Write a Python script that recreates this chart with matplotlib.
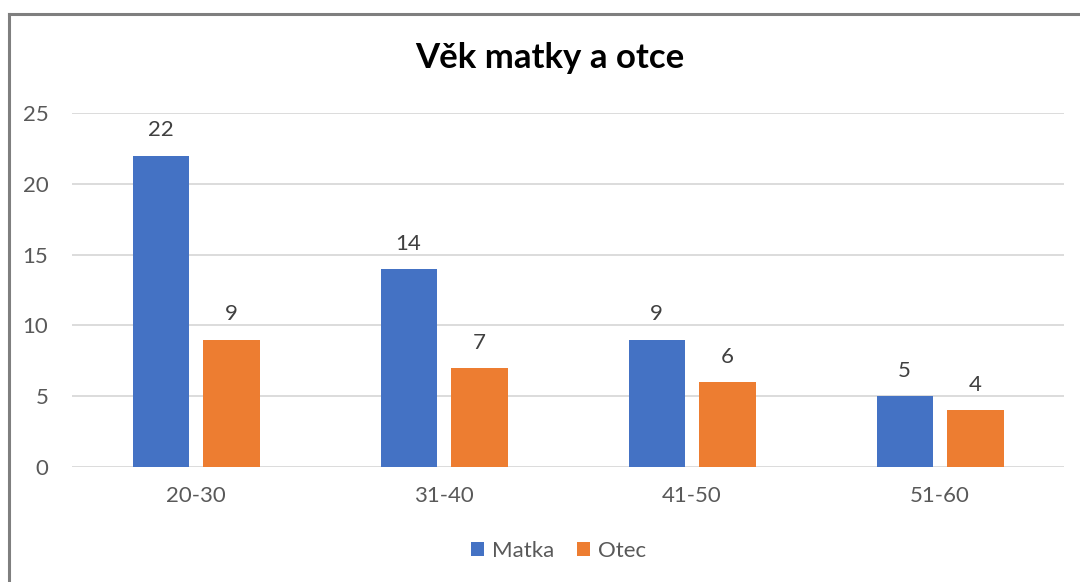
import matplotlib.pyplot as plt
import numpy as np

# age groups and counts
categories = ["20-30", "31-40", "41-50", "51-60"]
matka = [22, 14, 9, 5]
otec = [9, 7, 6, 4]

plt.rcParams['font.family'] = ['Lato', 'DejaVu Sans']

fig = plt.figure(figsize=(10.8, 5.82), dpi=100)
# outer chart border (left and top visible in the reference)
fig.add_artist(plt.Line2D([0.0083, 0.0083], [0, 0.976], color='#7f7f7f', lw=2.2, transform=fig.transFigure))
fig.add_artist(plt.Line2D([0.0083, 1.0], [0.976, 0.976], color='#7f7f7f', lw=2.2, transform=fig.transFigure))

ax = fig.add_axes([0.0667, 0.1976, 0.9185, 0.608])
x = np.arange(len(categories))
w = 0.226
off = 0.143
b1 = ax.bar(x - off, matka, w, color='#4472c4', label='Matka')
b2 = ax.bar(x + off, otec, w, color='#ed7d31', label='Otec')

for bars in (b1, b2):
    for b in bars:
        ax.annotate(str(int(b.get_height())), (b.get_x() + b.get_width() / 2, b.get_height()),
                    xytext=(0, 11), textcoords='offset points', ha='center', va='bottom',
                    fontsize=16, color='#404040')

ax.set_xlim(-0.5, 3.5)
ax.set_ylim(0, 25)
ax.set_yticks([0, 5, 10, 15, 20, 25])
ax.set_xticks(x)
ax.set_xticklabels(categories)
ax.grid(axis='y', color='#d9d9d9', lw=1.3)
ax.set_axisbelow(True)
for s in ax.spines.values():
    s.set_visible(False)
ax.tick_params(length=0, labelsize=16, colors='#595959')
ax.tick_params(axis='x', pad=14)
ax.tick_params(axis='y', pad=17)

fig.text(0.509, 0.9, "Věk matky a otce", ha='center', va='center', fontsize=25, fontweight='bold')

fig.legend(loc='center', bbox_to_anchor=(0.517, 0.054), ncol=2, frameon=False, fontsize=16,
           handlelength=0.6, handleheight=0.6, handletextpad=0.35, columnspacing=1.0,
           labelcolor='#595959')

fig.savefig("out.png", dpi=100)
